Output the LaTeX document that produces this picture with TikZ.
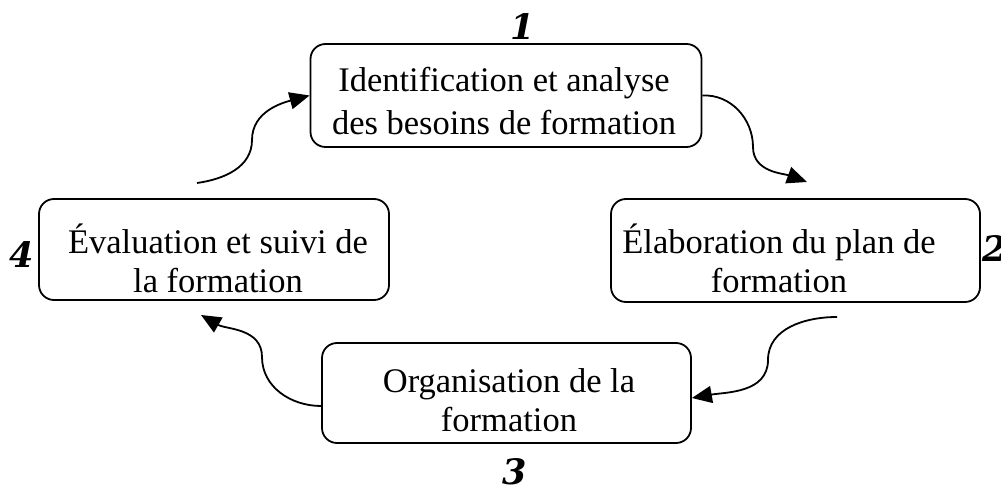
\documentclass[tikz,border=0pt]{standalone}
\usepackage{fontspec}
\setmainfont{Liberation Serif}
\newfontfamily\numfont{DejaVu Serif}
\usetikzlibrary{arrows.meta}

\tikzset{
  stagebox/.style={draw, line width=1.8pt, rounded corners=15pt, inner sep=0pt},
  stagetext/.style={align=center, inner sep=0pt, font=\fontsize{34.5}{43}\selectfont},
  tighttext/.style={stagetext, font=\fontsize{34.5}{39}\selectfont},
  stagenum/.style={inner sep=0pt, font=\numfont\bfseries\itshape\fontsize{35}{35}\selectfont},
  cycle/.style={line width=1.8pt, -{Triangle[length=20pt,width=17pt]}}
}

\begin{document}
\begin{tikzpicture}[x=1pt,y=1pt]
  \useasboundingbox (0,0) rectangle (1001,490);

  % the four stages of the cycle
  \node[stagebox, minimum width=391pt, minimum height=103pt] (b1) at (506,394.5) {};
  \node[stagebox, minimum width=369pt, minimum height=103pt] (b2) at (795.5,239.5) {};
  \node[stagebox, minimum width=369pt, minimum height=100pt] (b3) at (506.5,97) {};
  \node[stagebox, minimum width=350pt, minimum height=101pt] (b4) at (214,240.5) {};

  \node[stagetext] (t1) at (504,389) {Identification et analyse\\des besoins de formation};
  \node[tighttext] (t2) at (779,232) {Élaboration du plan de\\formation};
  \node[tighttext] (t3) at (509,90) {Organisation de la\\formation};
  \node[tighttext] (t4) at (218,232) {Évaluation et suivi de\\la formation};

  % stage numbers
  \node[stagenum] (n1) at (523,463) {1};
  \node[stagenum] (n2) at (995,241) {2};
  \node[stagenum] (n3) at (515,18) {3};
  \node[stagenum] (n4) at (22,235) {4};

  % loose ends of the connectors
  \coordinate (s1) at (197,307);
  \coordinate (m1) at (252,350);
  \coordinate (m2) at (753,343);
  \coordinate (e2) at (807,308);
  \coordinate (s3) at (837,173);
  \coordinate (m3) at (768,130);
  \coordinate (m4) at (262,133);
  \coordinate (e4) at (201,175);

  % curved arrows joining the stages
  \draw[cycle] (s1) to[out=8,in=-90] (m1) to[out=90,in=195] (b1.west);
  \draw[cycle] (b1.east) to[out=3,in=90] (m2) to[out=-90,in=160] (e2);
  \draw[cycle] (s3) to[out=180,in=90] (m3) to[out=-90,in=10] ([yshift=-5pt]b3.east);
  \draw[cycle] ([yshift=-13pt]b3.west) to[out=180,in=-90] (m4) to[out=90,in=-30] (e4);
\end{tikzpicture}
\end{document}
